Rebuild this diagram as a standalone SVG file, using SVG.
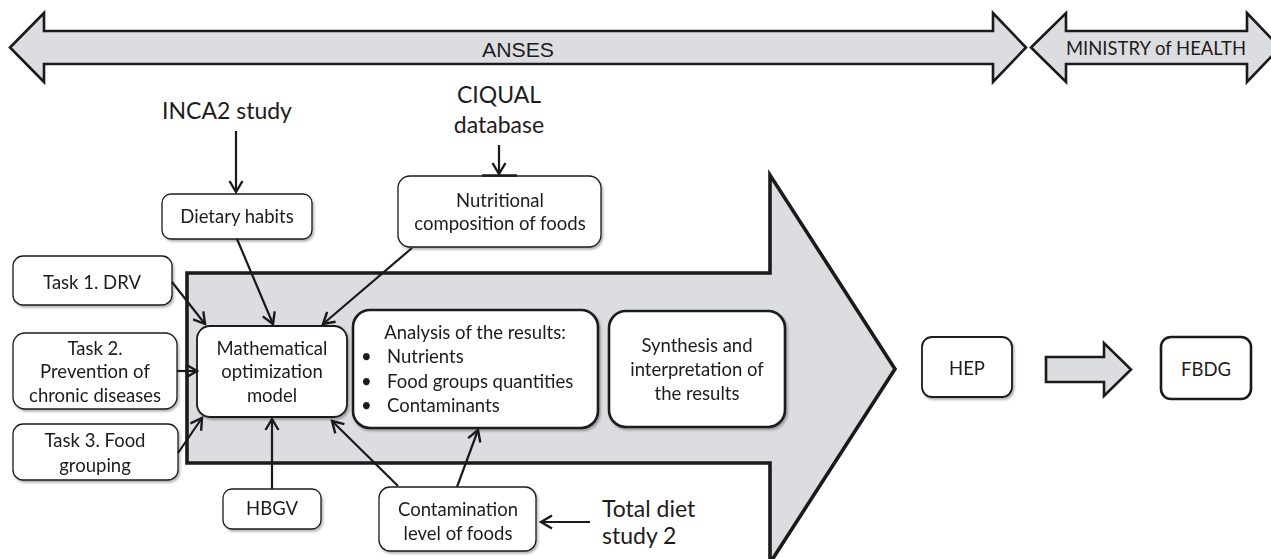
<svg xmlns="http://www.w3.org/2000/svg" width="1271" height="559" viewBox="0 0 1271 559">
<style>
.band{fill:#dcdde0;stroke:#1a1a1a;stroke-width:2.6;stroke-linejoin:miter}
.big{fill:#dcdde0;stroke:#1a1a1a;stroke-width:3.6;stroke-linejoin:miter}
.box{fill:#fff;stroke:#1a1a1a;stroke-width:1.3}
.box2{fill:#fff;stroke:#1a1a1a;stroke-width:1.8}
.box3{fill:#fff;stroke:#1a1a1a;stroke-width:2.6}
.t{font-family:Lato,"Open Sans",sans-serif;font-size:18.5px;fill:#1f1b1c;text-anchor:middle}
.tl{font-family:Lato,"Open Sans",sans-serif;font-size:18.5px;fill:#1f1b1c}
.big-t{font-family:Lato,"Open Sans",sans-serif;font-size:23px;fill:#1f1b1c;text-anchor:middle}
.arial{font-family:"Liberation Sans",Arial,sans-serif;fill:#1f1b1c;text-anchor:middle}
.c{fill:none;stroke:#1a1a1a;stroke-width:2.2;marker-end:url(#ah)}
</style>
<defs>
<marker id="ah" markerUnits="userSpaceOnUse" markerWidth="18" markerHeight="18" refX="13" refY="8" orient="auto" viewBox="0 0 18 16">
<path d="M2,1.5 L13,8 L2,14.5" fill="none" stroke="#1a1a1a" stroke-width="2.4" stroke-linejoin="miter"/>
</marker>
<filter id="sh" x="-10%" y="-10%" width="130%" height="140%">
<feDropShadow dx="1.5" dy="2" stdDeviation="1.3" flood-color="#000" flood-opacity="0.3"/>
</filter>
</defs>

<g id="anses-band">
<polygon class="band" points="10,47.5 44,13 44,31 993,31 993,13 1026,47.5 993,82 993,64 44,64 44,82"/>
<text class="arial" x="518" y="57" font-size="20" textLength="72" lengthAdjust="spacingAndGlyphs">ANSES</text>
</g>
<g id="ministry-band">
<polygon class="band" points="1031,47.5 1066,13 1066,31 1247,31 1247,13 1280,47.5 1247,82 1247,64 1066,64 1066,82"/>
<text class="t" x="1156" y="55" textLength="180" lengthAdjust="spacingAndGlyphs" style="font-size:19px">MINISTRY of HEALTH</text>
</g>

<g id="process-arrow">
<polygon class="big" points="187,273 770,273 770,175 895,369 770,563 770,463 187,463"/>
</g>

<g id="inca2">
<text class="big-t" x="227" y="119">INCA2 study</text>
</g>
<g id="ciqual">
<text class="big-t" x="499" y="103">CIQUAL</text>
<text class="big-t" x="499" y="133">database</text>
</g>
<g id="total-diet">
<text class="big-t" x="602" y="517" style="text-anchor:start">Total diet</text>
<text class="big-t" x="602" y="544" style="text-anchor:start">study 2</text>
</g>

<g id="dietary-habits" filter="url(#sh)">
<rect class="box" x="162" y="194" width="150" height="45" rx="9"/>
<text class="t" x="237" y="223">Dietary habits</text>
</g>
<g id="nutritional" filter="url(#sh)">
<rect class="box" x="398" y="176" width="203" height="71" rx="12"/>
<line x1="482" y1="175.5" x2="517" y2="175.5" stroke="#1a1a1a" stroke-width="2.4"/>
<text class="t" x="500" y="207">Nutritional</text>
<text class="t" x="500" y="230">composition of foods</text>
</g>
<g id="task1" filter="url(#sh)">
<rect class="box" x="13" y="256" width="159" height="49" rx="10"/>
<text class="t" x="92" y="289">Task 1. DRV</text>
</g>
<g id="task2" filter="url(#sh)">
<rect class="box" x="13" y="333" width="164" height="76" rx="12"/>
<text class="t" x="95" y="355">Task 2.</text>
<text class="t" x="95" y="378">Prevention of</text>
<text class="t" x="95" y="402">chronic diseases</text>
</g>
<g id="task3" filter="url(#sh)">
<rect class="box" x="13" y="424" width="165" height="56" rx="10"/>
<text class="t" x="95" y="447">Task 3. Food</text>
<text class="t" x="95" y="472">grouping</text>
</g>
<g id="math-model" filter="url(#sh)">
<rect class="box2" x="197" y="326" width="150" height="91" rx="13"/>
<text class="t" x="272" y="355">Mathematical</text>
<text class="t" x="272" y="378">optimization</text>
<text class="t" x="272" y="402">model</text>
</g>
<g id="analysis" filter="url(#sh)">
<rect class="box3" x="353" y="310" width="245" height="118" rx="17"/>
<text class="t" x="475" y="339">Analysis of the results:</text>
<text class="tl" x="361" y="363">•</text>
<text class="tl" x="387" y="363">Nutrients</text>
<text class="tl" x="361" y="388">•</text>
<text class="tl" x="387" y="388">Food groups quantities</text>
<text class="tl" x="361" y="412">•</text>
<text class="tl" x="387" y="412">Contaminants</text>
</g>
<g id="synthesis" filter="url(#sh)">
<rect class="box3" x="609" y="311" width="176" height="116" rx="17"/>
<text class="t" x="697" y="352">Synthesis and</text>
<text class="t" x="697" y="376">interpretation of</text>
<text class="t" x="697" y="400">the results</text>
</g>
<g id="hbgv" filter="url(#sh)">
<rect class="box" x="223" y="489" width="98" height="40" rx="9"/>
<text class="t" x="272" y="515">HBGV</text>
</g>
<g id="contamination" filter="url(#sh)">
<rect class="box" x="379" y="487" width="157" height="64" rx="11"/>
<text class="t" x="458" y="516">Contamination</text>
<text class="t" x="458" y="540">level of foods</text>
</g>
<g id="hep" filter="url(#sh)">
<rect class="box2" x="922" y="337" width="90" height="60" rx="10"/>
<text class="t" x="967" y="375">HEP</text>
</g>
<g id="fbdg">
<rect class="box3" x="1161" y="337" width="90" height="62" rx="10"/>
<text class="t" x="1206" y="376">FBDG</text>
</g>

<g id="connectors">
<line class="c" x1="236" y1="131" x2="236" y2="192"/>
<line class="c" x1="499" y1="145" x2="499" y2="174"/>
<line class="c" x1="237" y1="239" x2="273" y2="324"/>
<line class="c" x1="412" y1="248" x2="323" y2="324"/>
<line class="c" x1="172" y1="282" x2="205" y2="324"/>
<line class="c" x1="177" y1="371" x2="197" y2="371"/>
<line class="c" x1="178" y1="453" x2="202" y2="418"/>
<line class="c" x1="272" y1="489" x2="272" y2="419"/>
<line class="c" x1="398" y1="486" x2="332" y2="421"/>
<line class="c" x1="457" y1="487" x2="478" y2="430"/>
<line class="c" x1="590" y1="522" x2="541" y2="522"/>
<polygon class="band" points="1046,357 1104,357 1104,343 1131,369.5 1104,396 1104,382 1046,382"/>
</g>
</svg>
